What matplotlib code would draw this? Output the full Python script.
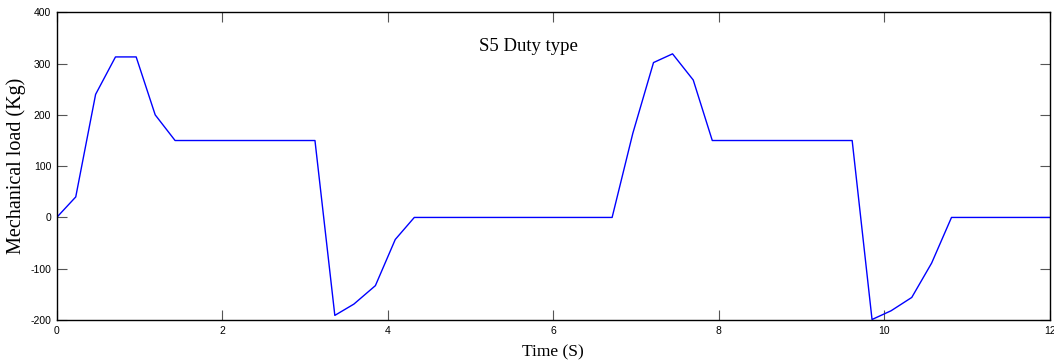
import matplotlib.pyplot as plt

# values
TIME_S = [0.0, 0.23, 0.47, 0.71, 0.96, 1.19, 1.43, 3.12, 3.36, 3.59, 3.85, 4.09,
          4.32, 6.71, 6.96, 7.21, 7.44, 7.69, 7.92, 9.61, 9.85, 10.08, 10.33,
          10.57, 10.81, 12.0]
LOAD_KG = [0, 40, 240, 313, 313, 200, 150, 150, -191, -169, -133, -43,
           0, 0, 164, 302, 319, 268, 150, 150, -199, -182, -156,
           -89, 0, 0]
X_TICKS = [0, 2, 4, 6, 8, 10, 12]
Y_TICKS = [-200, -100, 0, 100, 200, 300, 400]

SERIF = ["Liberation Serif", "DejaVu Serif"]
SANS = ["Liberation Sans", "DejaVu Sans"]

plt.rcParams["axes.unicode_minus"] = False

fig = plt.figure(figsize=(10.54, 3.62), dpi=100)
ax = fig.add_axes([0.0538, 0.116, 0.9424, 0.850])

ax.plot(TIME_S, LOAD_KG, color="#0000ff", linewidth=1.0)

ax.set_xlim(0, 12)
ax.set_ylim(-200, 400)
ax.set_xticks(X_TICKS)
ax.set_yticks(Y_TICKS)
ax.tick_params(direction="in", length=7, width=0.8, color="#555555",
               top=True, right=True, labelsize=7.5, pad=4)
for lbl in ax.get_xticklabels() + ax.get_yticklabels():
    lbl.set_family(SANS)
for sp in ax.spines.values():
    sp.set_linewidth(1.0)

ax.set_xlabel("Time (S)", family=SERIF, fontsize=12.5, labelpad=6)
ax.set_ylabel("Mechanical load (Kg)", family=SERIF, fontsize=14.5, labelpad=3)
ax.text(0.475, 0.89, "S5 Duty type", transform=ax.transAxes, ha="center",
        va="center", family=SERIF, fontsize=13.5)

fig.savefig("out.png", dpi=100)
